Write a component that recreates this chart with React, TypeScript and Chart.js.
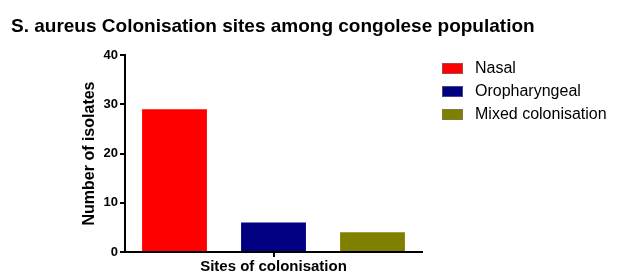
import React, { useEffect, useRef } from "react";
import { Chart, registerables } from "chart.js";

Chart.register(...registerables);

const chartTitle = "S. aureus Colonisation sites among congolese population";
const categories = [""];
const seriesNames = ["Nasal", "Oropharyngeal", "Mixed colonisation"];
const seriesValues = [[29], [6], [4]];
const seriesColors = ["#FF0000", "#000080", "#808000"];
const yTicks = [0, 10, 20, 30, 40];
const yAxisTitle = "Number of isolates";
const xAxisTitle = "Sites of colonisation";

const FONT = "'Liberation Sans', Arial, sans-serif";

const overlayPlugin = {
  id: "overlay",
  afterDraw(chart: any) {
    const ctx = chart.ctx;
    ctx.save();
    ctx.fillStyle = "#000";
    ctx.font = `bold 19px ${FONT}`;
    ctx.textBaseline = "alphabetic";
    ctx.textAlign = "left";
    ctx.fillText(chartTitle, 11, 32);

    chart.data.datasets.forEach((ds: any, i: number) => {
      const y = 68 + i * 23;
      ctx.fillStyle = ds.backgroundColor;
      ctx.fillRect(442, y - 5, 21, 11);
      ctx.strokeStyle = "rgba(120,120,120,0.6)";
      ctx.lineWidth = 1;
      ctx.strokeRect(442.5, y - 4.5, 20, 10);
      ctx.fillStyle = "#000";
      ctx.font = `16px ${FONT}`;
      ctx.textBaseline = "middle";
      ctx.fillText(ds.label, 475, y + 1);
    });
    ctx.restore();
  },
};

export default function App() {
  const ref = useRef<HTMLCanvasElement | null>(null);
  useEffect(() => {
    document.body.style.margin = "0";
    const canvas = ref.current!;
    const chart = new Chart(canvas, {
      type: "bar",
      data: {
        labels: categories,
        datasets: seriesNames.map((name, i) => ({
          label: name,
          data: seriesValues[i],
          backgroundColor: seriesColors[i],
          borderWidth: 0,
          categoryPercentage: 1,
          barPercentage: 0.655,
        })),
      },
      options: {
        animation: false,
        responsive: false,
        maintainAspectRatio: false,
        layout: { padding: { left: 0, top: 55, right: 199, bottom: 0 } },
        plugins: { legend: { display: false }, tooltip: { enabled: false }, title: { display: false } },
        scales: {
          x: {
            type: "category",
            offset: true,
            grid: {
              offset: false,
              drawOnChartArea: false,
              drawTicks: true,
              tickLength: 5,
              color: "#000",
              lineWidth: 2,
            },
            border: { display: true, color: "#000", width: 2 },
            ticks: { display: true, callback: () => "", font: { size: 1 } },
            title: {
              display: true,
              text: xAxisTitle,
              color: "#000",
              font: { family: FONT, size: 15, weight: "bold" },
              padding: { top: 0, bottom: 4 },
            },
            afterFit: (scale: any) => {
              scale.height = 28;
            },
          },
          y: {
            min: 0,
            max: 40,
            afterBuildTicks: (scale: any) => {
              scale.ticks = yTicks.map((v) => ({ value: v }));
            },
            grid: {
              drawOnChartArea: false,
              drawTicks: true,
              tickLength: 5,
              color: "#000",
              lineWidth: 2,
            },
            border: { display: true, color: "#000", width: 2 },
            ticks: {
              color: "#000",
              padding: 2,
              font: { family: FONT, size: 13, weight: "bold" },
            },
            title: {
              display: true,
              text: yAxisTitle,
              color: "#000",
              font: { family: FONT, size: 16, weight: "bold" },
              padding: { top: 80, bottom: 0 },
            },
            afterFit: (scale: any) => {
              scale.width = 125;
            },
          },
        },
      },
      plugins: [overlayPlugin],
    });
    return () => chart.destroy();
  }, []);
  return <canvas ref={ref} width={621} height={280} style={{ display: "block", width: 621, height: 280 }} />;
}
